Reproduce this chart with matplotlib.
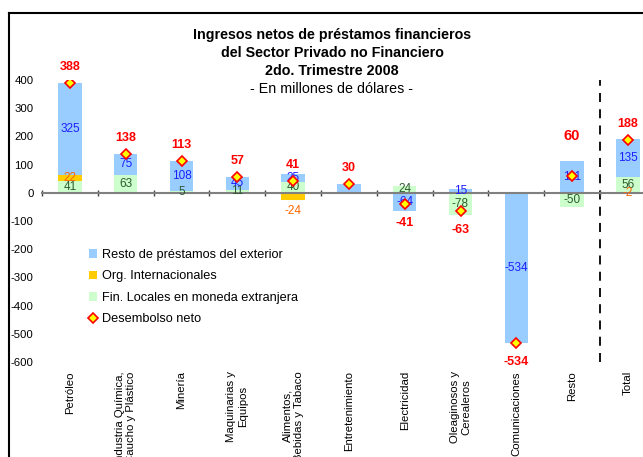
import matplotlib
matplotlib.use("Agg")
import matplotlib.pyplot as plt
from matplotlib.patches import Patch
from matplotlib.lines import Line2D
import matplotlib.transforms as mtransforms
import numpy as np

plt.rcParams['font.family'] = ['Liberation Sans', 'DejaVu Sans']

categories = ["Petróleo", "Industria Química,\nCaucho y Plástico", "Minería",
              "Maquinarias y\nEquipos", "Alimentos,\nBebidas y Tabaco", "Entretenimiento",
              "Electricidad", "Oleaginosos y\nCerealeros", "Comunicaciones", "Resto", "Total"]
fin_locales = [41, 63, 5, 11, 40, 0, 24, -78, 0, -50, 56]
org_intl = [22, 0, 0, 0, -24, 0, 0, 0, 0, -1, -2]
resto_ext = [325, 75, 108, 45, 25, 30, -64, 15, -534, 111, 135]
neto = [388, 138, 113, 57, 41, 30, -41, -63, -534, 60, 188]
# which segment labels are shown
show_fin = [True, True, True, True, True, False, True, True, False, True, True]
show_org = [True, False, False, False, True, False, False, False, False, False, True]
show_resto = [True, True, True, True, True, False, True, True, True, True, True]

series_names = ["Resto de préstamos del exterior", "Org. Internacionales",
                "Fin. Locales en moneda extranjera", "Desembolso neto"]
title_lines = ["Ingresos netos de préstamos financieros",
               "del Sector Privado no Financiero", "2do. Trimestre 2008"]
subtitle = "- En millones de dólares -"
yticks = [400, 300, 200, 100, 0, -100, -200, -300, -400, -500, -600]

c_blue = "#99CCFF"
c_org = "#FFCC00"
c_green = "#CCFFCC"
t_blue = "#1E1EFF"
t_org = "#FF6600"
t_green = "#2E5A2E"
t_red = "#FF0000"

W, H = 643, 457
fig = plt.figure(figsize=(W / 100, H / 100), dpi=100)
ax_left, ax_right, ax_top, ax_bot = 42, 42 + 11 * 55.8, 80, 362
ax = fig.add_axes([ax_left / W, (H - ax_bot) / H, (ax_right - ax_left) / W, (ax_bot - ax_top) / H])

n = len(categories)
x = np.arange(n)
bw = 0.42

pos_base = np.zeros(n)
neg_base = np.zeros(n)
segs = []
for vals, col, tcol, show in [(fin_locales, c_green, t_green, show_fin),
                              (org_intl, c_org, t_org, show_org),
                              (resto_ext, c_blue, t_blue, show_resto)]:
    vals = np.array(vals, dtype=float)
    bottoms = np.where(vals >= 0, pos_base, neg_base)
    ax.bar(x, vals, bw, bottom=bottoms, color=col, edgecolor='none', zorder=2)
    for i in range(n):
        if show[i] and vals[i] != 0:
            segs.append((i, bottoms[i] + vals[i] / 2, vals[i], tcol))
    pos_base = pos_base + np.where(vals >= 0, vals, 0)
    neg_base = neg_base + np.where(vals < 0, vals, 0)

for i, yc, v, tcol in segs:
    dy = 0
    if tcol == t_org and v == -24:
        dy = -15
    ax.annotate(f"{int(v)}", (i, yc), xytext=(0, dy), textcoords='offset pixels',
                ha='center', va='center', fontsize=8.5, color=tcol, zorder=4)

ax.plot(x, neto, linestyle='none', marker='D', markersize=5.5,
        markerfacecolor='#FFFF00', markeredgecolor='#FF0000', markeredgewidth=1.2, zorder=5)
for i, v in enumerate(neto):
    fs = 9
    if categories[i] == "Resto":
        off = 40
        fs = 10.5
    elif v >= 0:
        off = 16
    else:
        off = -19
    ax.annotate(f"{v}", (i, v), xytext=(0, off), textcoords='offset pixels',
                ha='center', va='center', fontsize=fs, fontweight='bold', color=t_red, zorder=6)

ax.set_xlim(-0.5, n - 0.5)
ax.set_ylim(-600, 400)
ax.set_yticks(yticks)
ax.set_yticklabels([str(t) for t in yticks], fontsize=8.2)
ax.tick_params(axis='y', length=0, pad=6)
for s in ['left', 'right', 'top']:
    ax.spines[s].set_visible(False)
ax.spines['bottom'].set_position(('data', 0))
ax.spines['bottom'].set_color('#808080')
ax.spines['bottom'].set_linewidth(1.5)
ax.spines['bottom'].set_zorder(3)
ax.set_xticks(np.arange(-0.5, n, 1.0))
ax.set_xticklabels([])
ax.tick_params(axis='x', direction='inout', length=5, width=1, color='#404040')
ax.patch.set_alpha(0)

ax.axvline(n - 1.5, color='black', linestyle=(0, (5, 4)), linewidth=1.3, zorder=1)

trans = mtransforms.blended_transform_factory(ax.transData, ax.transAxes)
for i, cat in enumerate(categories):
    ax.text(i, -9 / (ax_bot - ax_top), cat, transform=trans, rotation=90,
            ha='center', va='top', multialignment='center', fontsize=8.2, color='black')

# Titles
ty = [35, 53, 71]
for line, yy in zip(title_lines, ty):
    fig.text(332 / W, 1 - yy / H, line, ha='center', va='center', fontsize=10.3, fontweight='bold')
fig.text(332 / W, 1 - 89 / H, subtitle, ha='center', va='center', fontsize=10.3)

handles = [Patch(facecolor=c_blue, edgecolor='none'),
           Patch(facecolor=c_org, edgecolor='none'),
           Patch(facecolor=c_green, edgecolor='none'),
           Line2D([], [], linestyle='none', marker='D', markersize=5,
                  markerfacecolor='#FFFF00', markeredgecolor='#FF0000', markeredgewidth=1.2)]
leg = ax.legend(handles, series_names, loc='upper left',
                bbox_to_anchor=((89 - ax_left) / (ax_right - ax_left), (ax_bot - 249) / (ax_bot - ax_top)),
                frameon=False, fontsize=9.2, handlelength=0.65, handleheight=0.65,
                handletextpad=0.4, labelspacing=0.74, borderpad=0, borderaxespad=0)

# chart border (cropped)
fig.add_artist(Line2D([9 / W, 9 / W], [0, 1 - 13 / H], transform=fig.transFigure, color='black', linewidth=1.5))
fig.add_artist(Line2D([9 / W, 1], [1 - 13 / H, 1 - 13 / H], transform=fig.transFigure, color='black', linewidth=1.5))

fig.savefig("out.png", dpi=100)
